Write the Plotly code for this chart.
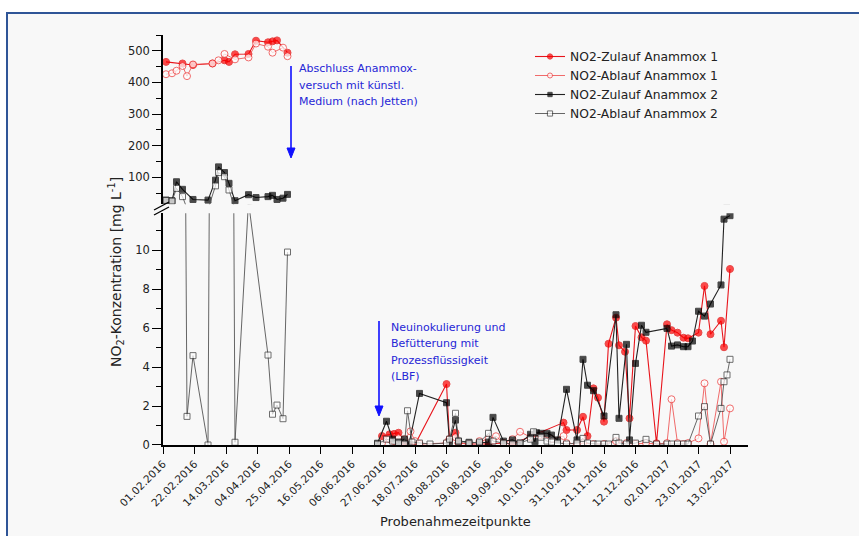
import plotly.graph_objects as go

# ---------------- data ----------------
# Period 1 (Feb - Apr 2016)
z1_dates_p1 = ["2016-02-03", "2016-02-14", "2016-02-21", "2016-03-05", "2016-03-13", "2016-03-16",
               "2016-03-20", "2016-03-29", "2016-04-03", "2016-04-11", "2016-04-14", "2016-04-17",
               "2016-04-24"]
z1_vals_p1 = [465, 460, 455, 460, 470, 465, 489, 490, 532, 527, 530, 533, 494]

a1_dates_p1 = ["2016-02-03", "2016-02-07", "2016-02-10", "2016-02-14", "2016-02-17", "2016-02-21",
               "2016-03-05", "2016-03-09", "2016-03-13", "2016-03-20", "2016-03-29", "2016-04-03",
               "2016-04-11", "2016-04-14", "2016-04-21", "2016-04-24"]
a1_vals_p1 = [426, 429, 437, 452, 420, 457, 460, 470, 490, 473, 479, 523, 513, 494, 510, 483]

z2_dates_p1 = ["2016-02-03", "2016-02-07", "2016-02-10", "2016-02-14", "2016-02-21", "2016-03-02",
               "2016-03-07", "2016-03-09", "2016-03-13", "2016-03-16", "2016-03-20", "2016-03-29",
               "2016-04-03", "2016-04-11", "2016-04-14", "2016-04-17", "2016-04-21", "2016-04-24"]
z2_vals_p1 = [28, 26, 86, 62, 30, 28, 91, 133, 115, 81, 26, 45, 36, 39, 43, 30, 34, 46]

a2_dates_p1 = ["2016-02-03", "2016-02-07", "2016-02-10", "2016-02-14", "2016-02-17", "2016-02-21",
               "2016-03-02", "2016-03-07", "2016-03-09", "2016-03-13", "2016-03-16", "2016-03-20",
               "2016-03-29", "2016-04-11", "2016-04-14", "2016-04-17", "2016-04-21", "2016-04-24"]
a2_vals_p1 = [27, 25, 65, 39, 1.47, 4.59, 0, 73, 115, 102, 60, 0.14, 12.5, 4.62, 1.58, 2.05, 1.35, 9.91]

# Period 2 (Jun 2016 - Feb 2017)
z1_dates_p2 = ["2016-06-26", "2016-07-01", "2016-07-04", "2016-07-07", "2016-07-11", "2016-07-18",
               "2016-08-08", "2016-08-10", "2016-08-14", "2016-08-16", "2016-08-23", "2016-09-05",
               "2016-09-15", "2016-09-21", "2016-10-25", "2016-10-27", "2016-11-03", "2016-11-07",
               "2016-11-10", "2016-11-14", "2016-11-17", "2016-11-21", "2016-11-24", "2016-11-29",
               "2016-12-01", "2016-12-05", "2016-12-08", "2016-12-12", "2016-12-16", "2016-12-19",
               "2016-12-26", "2017-01-02", "2017-01-05", "2017-01-09", "2017-01-13", "2017-01-16",
               "2017-01-23", "2017-01-27", "2017-01-31", "2017-02-07", "2017-02-09", "2017-02-13"]
z1_vals_p2 = [0.46, 0.55, 0.57, 0.63, 0.15, 0.02, 3.13, 0.3, 0.63, 0.1, 0.05, 0.05,
              0.1, 0.05, 1.15, 0.77, 0.77, 1.45, 0.46, 2.91, 2.43, 1.2, 5.2, 6.54,
              5.12, 4.79, 1.37, 6.11, 5.53, 5.36, 0.09, 6.2, 5.9, 5.77, 5.51, 5.48,
              5.77, 8.17, 5.69, 6.38, 5.02, 9.04]

a1_dates_p2 = ["2016-06-26", "2016-07-01", "2016-07-04", "2016-07-07", "2016-07-11", "2016-07-15",
               "2016-07-18", "2016-07-21", "2016-08-08", "2016-08-10", "2016-08-14", "2016-08-16",
               "2016-08-23", "2016-08-30", "2016-09-05", "2016-09-10", "2016-09-15", "2016-09-21",
               "2016-09-26", "2016-10-03", "2016-10-10", "2016-10-17", "2016-10-25", "2016-10-27",
               "2016-11-03", "2016-11-07", "2016-11-14", "2016-11-21", "2016-11-29", "2016-12-06",
               "2016-12-12", "2016-12-19", "2016-12-26", "2017-01-02", "2017-01-05", "2017-01-09",
               "2017-01-13", "2017-01-16", "2017-01-23", "2017-01-27", "2017-01-31", "2017-02-07",
               "2017-02-09", "2017-02-13"]
a1_vals_p2 = [0.1, 0.3, 0.2, 0.35, 0.3, 0.7, 0.2, 0.05, 0.1, 0.3, 0.4, 0.1,
              0.05, 0.2, 0.3, 0.45, 0.1, 0.3, 0.68, 0.4, 0.5, 0.3, 0.46, 0.1,
              0.05, 0.1, 0.05, 0.05, 0.2, 0.1, 0.05, 0.1, 0.05, 0.1, 2.35, 0.1,
              0.05, 0.1, 0.34, 3.17, 0.05, 3.25, 0.17, 1.88]

z2_dates_p2 = ["2016-06-23", "2016-06-29", "2016-07-03", "2016-07-07", "2016-07-11", "2016-07-14",
               "2016-07-21", "2016-08-08", "2016-08-10", "2016-08-14", "2016-08-16", "2016-08-23",
               "2016-08-30", "2016-09-05", "2016-09-08", "2016-09-15", "2016-09-21", "2016-09-26",
               "2016-10-03", "2016-10-06", "2016-10-07", "2016-10-10", "2016-10-14", "2016-10-17",
               "2016-10-21", "2016-10-27", "2016-11-03", "2016-11-07", "2016-11-10", "2016-11-14",
               "2016-11-21", "2016-11-29", "2016-12-01", "2016-12-06", "2016-12-08", "2016-12-12",
               "2016-12-16", "2016-12-19", "2017-01-02", "2017-01-05", "2017-01-09", "2017-01-13",
               "2017-01-16", "2017-01-19", "2017-01-23", "2017-01-27", "2017-01-31", "2017-02-07",
               "2017-02-09", "2017-02-13"]
z2_vals_p2 = [0.09, 1.22, 0.3, 0.15, 0.3, 0.05, 2.65, 2.17, 0.17, 1.28, 0.2, 0.14,
              0.1, 0.15, 1.42, 0.2, 0.26, 0.1, 0.55, 0.17, 0.63, 0.6, 0.6, 0.51,
              0.26, 2.86, 0.26, 4.4, 3.07, 2.79, 1.49, 6.69, 1.37, 5.17, 0.26, 4.19,
              6.15, 5.79, 5.99, 5.08, 5.14, 5.05, 5.05, 5.34, 6.87, 6.62, 7.24, 8.22,
              11.6, 11.78]

a2_dates_p2 = ["2016-06-23", "2016-06-29", "2016-07-03", "2016-07-07", "2016-07-11", "2016-07-13",
               "2016-07-16", "2016-07-21", "2016-07-28", "2016-08-08", "2016-08-10", "2016-08-14",
               "2016-08-16", "2016-08-23", "2016-08-30", "2016-09-05", "2016-09-08", "2016-09-15",
               "2016-09-21", "2016-09-26", "2016-10-03", "2016-10-05", "2016-10-10", "2016-10-14",
               "2016-10-17", "2016-10-21", "2016-10-27", "2016-11-03", "2016-11-07", "2016-11-10",
               "2016-11-14", "2016-11-17", "2016-11-21", "2016-11-24", "2016-11-29", "2016-12-01",
               "2016-12-06", "2016-12-12", "2016-12-19", "2016-12-26", "2017-01-02", "2017-01-05",
               "2017-01-09", "2017-01-13", "2017-01-16", "2017-01-23", "2017-01-27", "2017-01-31",
               "2017-02-07", "2017-02-09", "2017-02-11", "2017-02-13"]
a2_vals_p2 = [0.05, 0.3, 0.2, 0.1, 0.05, 1.76, 0.15, 0.1, 0.05, 0.1, 0.3, 1.63,
              0.2, 0.1, 0.15, 0.6, 0.2, 0.1, 0.05, 0.1, 0.3, 0.68, 0.4, 0.2,
              0.15, 0.1, 0.05, 0.1, 0.34, 0.1, 0.05, 0.05, 0.05, 0.05, 0.39, 0.1,
              0.05, 0.1, 0.29, 0.05, 0.05, 0.05, 0.05, 0.05, 0.05, 1.49, 1.97, 0.05,
              1.88, 3.25, 3.6, 4.4]

series_names = ["NO2-Zulauf Anammox 1", "NO2-Ablauf Anammox 1",
                "NO2-Zulauf Anammox 2", "NO2-Ablauf Anammox 2"]

note1_lines = ["Abschluss Anammox-", "versuch mit künstl.", "Medium (nach Jetten)"]
note2_lines = ["Neuinokulierung und", "Befütterung mit", "Prozessflüssigkeit", "(LBF)"]

x_tick_start = "2016-02-01"
x_range = ["2016-02-01", "2017-02-25"]
y_low_range = [0, 11.9]
y_high_range = [15, 550]

# ---------------- geometry helpers (pixels -> paper) ----------------
W, H = 859, 536
L, R, T, B = 163, 111, 35, 91
PW, PH = W - L - R, H - T - B


def px(x):
    return (x - L) / PW


def py(y):
    return (H - B - y) / PH


GAP = "2016-05-20"


def join(d1, v1, d2, v2):
    return d1 + [GAP] + d2, v1 + [None] + v2


styles = [
    dict(line=dict(color="#e8141b", width=1.1), symbol="circle", size=7, color="#ff0000",
         mline=dict(color="#e00000", width=1)),
    dict(line=dict(color="#ee5a5a", width=0.9), symbol="circle", size=7, color="#ffffff",
         mline=dict(color="#ee3030", width=1)),
    dict(line=dict(color="#222222", width=1.1), symbol="square", size=6, color="#000000",
         mline=dict(color="#000000", width=1)),
    dict(line=dict(color="#555555", width=0.9), symbol="square", size=6, color="#ffffff",
         mline=dict(color="#333333", width=1)),
]

data = [
    join(z1_dates_p1, z1_vals_p1, z1_dates_p2, z1_vals_p2),
    join(a1_dates_p1, a1_vals_p1, a1_dates_p2, a1_vals_p2),
    join(z2_dates_p1, z2_vals_p1, z2_dates_p2, z2_vals_p2),
    join(a2_dates_p1, a2_vals_p1, a2_dates_p2, a2_vals_p2),
]

fig = go.Figure()
for name, (xs, ys), st in zip(series_names, data, styles):
    # hide markers that fall outside each axis segment (lines stay, clipped by the subplot)
    low_sizes = [st["size"] if (v is not None and v <= y_low_range[1]) else 0 for v in ys]
    high_sizes = [st["size"] if (v is not None and v >= y_high_range[0]) else 0 for v in ys]
    for yax, sizes, show in (("y", low_sizes, True), ("y2", high_sizes, False)):
        fig.add_trace(go.Scatter(
            x=xs, y=ys, name=name, mode="lines+markers", yaxis=yax,
            legendgroup=name, showlegend=show, line=st["line"],
            marker=dict(symbol=st["symbol"], size=sizes, color=st["color"], line=st["mline"]),
        ))

axis_common = dict(showline=True, linecolor="#000000", linewidth=1.5, showgrid=False,
                   zeroline=False, ticks="outside", tickcolor="#000000", tickwidth=1.2,
                   tickfont=dict(size=11.5, color="#222222"))

fig.update_layout(
    width=W, height=H,
    margin=dict(l=L, r=R, t=T, b=B),
    paper_bgcolor="#ffffff",
    plot_bgcolor="rgba(0,0,0,0)",
    font=dict(family="DejaVu Sans", size=11, color="#222222"),
    xaxis=dict(type="date", range=x_range, tick0=x_tick_start, dtick=21 * 86400000,
               tickformat="%d.%m.%Y", tickangle=-45, ticklen=7, anchor="y",
               **{**axis_common, "tickfont": dict(size=10.5, color="#222222")}),
    yaxis=dict(domain=[0, 11.9 * 19.47 / PH], range=y_low_range, tick0=0, dtick=2, ticklen=9,
               minor=dict(dtick=1, ticks="outside", ticklen=5, tickcolor="#000000", showgrid=False),
               **axis_common),
    yaxis2=dict(domain=[py(204.2), 1], range=y_high_range, tick0=0, dtick=100, ticklen=9,
                anchor="x",
                minor=dict(dtick=50, ticks="outside", ticklen=5, tickcolor="#000000", showgrid=False),
                **axis_common),
    legend=dict(x=px(530), y=py(42), xanchor="left", yanchor="top", bgcolor="rgba(0,0,0,0)",
                font=dict(size=12.3, color="#222222"), tracegroupgap=0),
    showlegend=True,
)

# frame
fig.add_shape(type="rect", xref="paper", yref="paper", x0=px(7), y0=py(13), x1=px(920), y1=py(600),
              line=dict(color="#2f5597", width=2), fillcolor="#f8f8f8", layer="below")
# axis break marks
for off in (0, 5):
    fig.add_shape(type="line", xref="paper", yref="paper",
                  x0=px(154), y0=py(215 - off), x1=px(169), y1=py(207 - off),
                  line=dict(color="#000000", width=1.3))

# arrows (line + triangular head)
arrow_col = "#1010ff"
for ax_px, y_top, y_tip in ((291, 66, 158), (379, 321, 416)):
    fig.add_shape(type="line", xref="paper", yref="paper",
                  x0=px(ax_px), y0=py(y_top), x1=px(ax_px), y1=py(y_tip - 6),
                  line=dict(color=arrow_col, width=1.6))
    fig.add_shape(type="path", xref="paper", yref="paper",
                  path=f"M {px(ax_px - 4)} {py(y_tip - 10)} L {px(ax_px + 4)} {py(y_tip - 10)} "
                       f"L {px(ax_px)} {py(y_tip)} Z",
                  fillcolor=arrow_col, line=dict(color=arrow_col, width=1))

blue = "#2626d6"
for lines, x0, y0, step in ((note1_lines, 297, 69, 16.2), (note2_lines, 389, 327, 16.6)):
    for i, txt in enumerate(lines):
        fig.add_annotation(x=px(x0), y=py(y0 + i * step), xref="paper", yref="paper",
                           xanchor="left", yanchor="middle", showarrow=False,
                           font=dict(size=11, color=blue), text=txt)
# axis titles
fig.add_annotation(x=px(116), y=py(272), xref="paper", yref="paper", xanchor="center",
                   yanchor="middle", textangle=-90, showarrow=False,
                   font=dict(size=14, color="#222222"),
                   text="NO<sub>2</sub>-Konzentration [mg L<sup>-1</sup>]")
fig.add_annotation(x=px(455), y=py(521), xref="paper", yref="paper", xanchor="center",
                   yanchor="middle", showarrow=False,
                   font=dict(size=13, color="#222222"), text="Probenahmezeitpunkte")

fig.write_html("out.html", post_script="document.body.style.margin='0';",
               config={"displayModeBar": False})
